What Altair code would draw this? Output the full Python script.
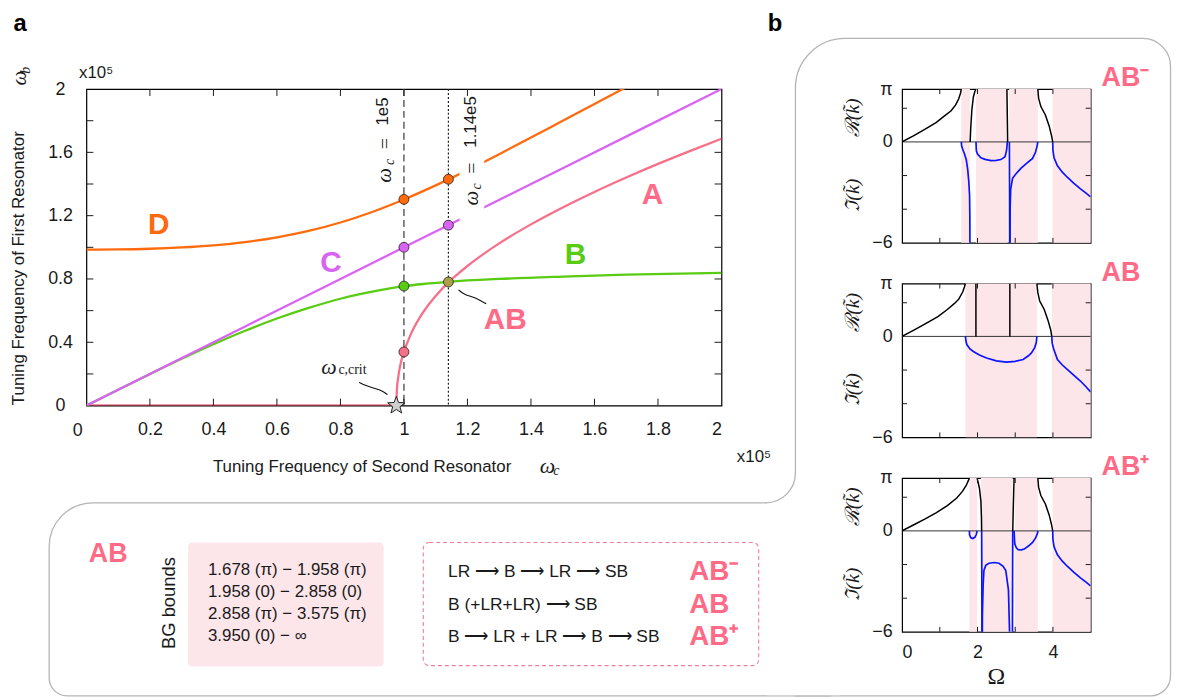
import math
import altair as alt
import pandas as pd

PI = math.pi
SANS = "Liberation Sans"
SERIF = "Liberation Serif"
INK = "#1a1a1a"
GRAY = "#b4b4b4"
PINK = "#ff6b86"
PINKBG = "#fde6ea"

# ---------------- panel a data (both axes in units of 1e5) ----------------
A0_x = [0.0, 0.976]
A0_y = [0.0, 0.0]
A_x = [0.976, 0.978, 0.982, 0.988, 0.994, 1.0, 1.02, 1.05, 1.075, 1.1, 1.14, 1.17, 1.2, 1.25,
       1.3, 1.4, 1.5, 1.6, 1.7, 1.8, 1.9, 2.0]
A_y = [0.0, 0.104, 0.179, 0.25, 0.301, 0.339, 0.4435, 0.557, 0.631, 0.693, 0.779, 0.832, 0.882, 0.957,
       1.025, 1.145, 1.252, 1.35, 1.441, 1.527, 1.608, 1.686]
B_x = [0.0, 0.1, 0.2, 0.3, 0.4, 0.5, 0.6, 0.7, 0.8, 0.9, 1.0, 1.07, 1.14, 1.3, 1.5, 1.7, 2.0]
B_y = [0.0, 0.1, 0.199, 0.296, 0.388, 0.473, 0.55, 0.617, 0.675, 0.72, 0.755, 0.77, 0.782, 0.80, 0.815, 0.827, 0.838]
C_x = [0.0, 0.5, 1.0, 1.5, 2.0]
C_y = [0.0, 0.5, 1.0, 1.5, 2.0]
D_x = [0.0, 0.1, 0.2, 0.3, 0.4, 0.5, 0.6, 0.7, 0.8, 0.9, 1.0, 1.1, 1.14, 1.2, 1.3, 1.4, 1.5, 1.6, 1.7, 1.75]
D_y = [0.985, 0.9865, 0.991, 0.9995, 1.013, 1.0335, 1.0635, 1.104, 1.157, 1.2235, 1.3025, 1.3915, 1.4293,
       1.487, 1.5885, 1.6935, 1.7995, 1.9055, 2.0115, 2.064]

dot_x = [1.0, 1.14, 1.0, 1.14, 1.0, 1.0, 1.14]
dot_y = [1.303, 1.43, 1.0, 1.14, 0.755, 0.339, 0.781]
dot_s = ["D", "D", "C", "C", "B", "A", "AB"]
crit_x = [0.976]
crit_y = [0.0]

series_names = ["A0", "A", "B", "C", "D", "AB"]
series_colors = ["#dc3452", "#f7708a", "#58cc12", "#d963f2", "#ff6a0d", "#aaa048"]

ticks_a = [0.2, 0.4, 0.6, 0.8, 1.0, 1.2, 1.4, 1.6, 1.8]
xlab_a = [0.2, 0.4, 0.6, 0.8, 1.0, 1.2, 1.4, 1.6, 1.8, 2.0]
ylab_a = [0.0, 0.4, 0.8, 1.2, 1.6, 2.0]

conn_ab_x = [1.172, 1.191, 1.222, 1.259]
conn_ab_y = [0.731, 0.699, 0.687, 0.643]
conn_cr_x = [0.859, 0.880, 0.906, 0.932, 0.948]
conn_cr_y = [0.147, 0.126, 0.109, 0.094, 0.069]

# ---------------- panel b data (Omega, Re/Im of k) ----------------
m_bands = [(1.57, 1.80), (1.96, 2.80), (2.84, 3.60), (3.99, 5.0)]
m_black = [
    [(0, 0), (0.3, 0.36), (0.6, 0.74), (0.9, 1.15), (1.1, 1.5), (1.3, 1.85), (1.42, 2.2), (1.5, 2.55), (1.55, 2.9), (1.57, PI)],
    [(1.805, 0), (1.82, 0.8), (1.85, 1.9), (1.89, 2.67), (1.93, 3.0), (1.96, PI)],
    [(2.78, PI), (2.79, 1.6), (2.80, 0)],
    [(3.60, PI), (3.62, 2.6), (3.68, 2.1), (3.8, 1.6), (3.9, 0.95), (3.96, 0.4), (3.995, 0)],
]
m_blue = [
    [(1.57, 0), (1.58, -0.25), (1.61, -0.45), (1.66, -0.75), (1.70, -1.04), (1.74, -1.63), (1.77, -2.4), (1.79, -3.2), (1.797, -4.5), (1.802, -8)],
    [(1.96, 0), (1.965, -0.3), (1.97, -0.53), (2.0, -0.72), (2.09, -0.94), (2.2, -1.04), (2.36, -1.11), (2.5, -1.1), (2.62, -1.05), (2.73, -0.88), (2.77, -0.5), (2.785, -0.2), (2.79, 0)],
    [(2.845, 0), (2.85, -3), (2.855, -8)],
    [(2.86, -8), (2.865, -4), (2.88, -2.8), (2.93, -2.16), (3.0, -1.95), (3.15, -1.57), (3.3, -1.28), (3.46, -0.98), (3.54, -0.6), (3.58, -0.25), (3.6, 0)],
    [(3.995, 0), (4.0, -0.5), (4.03, -0.95), (4.12, -1.42), (4.25, -1.8), (4.38, -2.1), (4.55, -2.45), (4.73, -2.79), (4.87, -3.03), (5.0, -3.27)],
]
z_bands = [(1.678, 3.575), (3.97, 5.0)]
z_black = [
    [(0, 0), (0.3, 0.36), (0.6, 0.73), (0.95, 1.18), (1.2, 1.6), (1.39, 1.96), (1.5, 2.2), (1.61, 2.65), (1.655, 2.95), (1.678, PI)],
    [(1.958, 0), (1.958, PI)],
    [(2.858, 0), (2.858, PI)],
    [(3.575, PI), (3.6, 2.6), (3.65, 2.1), (3.77, 1.6), (3.87, 0.95), (3.94, 0.4), (3.97, 0)],
]
z_blue = [
    [(1.678, 0), (1.70, -0.35), (1.72, -0.5), (1.8, -0.75), (1.89, -0.9), (2.05, -1.1), (2.24, -1.28), (2.5, -1.45), (2.77, -1.53), (3.0, -1.48), (3.21, -1.37), (3.35, -1.15), (3.43, -0.98), (3.52, -0.65), (3.56, -0.35), (3.575, 0)],
    [(3.97, 0), (3.98, -0.4), (4.02, -0.75), (4.12, -1.37), (4.25, -1.7), (4.38, -1.96), (4.55, -2.3), (4.73, -2.65), (4.87, -2.98), (5.0, -3.3)],
]
p_bands = [(1.785, 1.99), (2.09, 2.93), (2.99, 3.6), (3.99, 5.0)]
p_black = [
    [(0, 0), (0.3, 0.35), (0.6, 0.7), (0.9, 1.07), (1.2, 1.5), (1.45, 1.95), (1.6, 2.35), (1.7, 2.7), (1.76, 3.0), (1.785, PI)],
    [(1.99, PI), (2.05, 2.55), (2.09, 1.76), (2.105, 0.8), (2.11, 0)],
    [(2.935, 0), (2.95, 1.5), (2.97, PI)],
    [(3.60, PI), (3.62, 2.6), (3.68, 2.1), (3.8, 1.6), (3.9, 0.95), (3.96, 0.4), (3.995, 0)],
]
p_blue = [
    [(1.785, 0), (1.79, -0.25), (1.82, -0.4), (1.87, -0.45), (1.93, -0.38), (1.97, -0.2), (1.99, 0)],
    [(2.11, 0), (2.115, -3), (2.12, -8)],
    [(2.125, -8), (2.13, -5), (2.15, -3.2), (2.17, -2.35), (2.22, -2.05), (2.3, -1.92), (2.45, -1.88), (2.57, -1.92), (2.68, -2.1), (2.75, -2.35), (2.82, -3.5), (2.85, -6), (2.86, -8)],
    [(2.925, -8), (2.93, -3), (2.935, 0)],
    [(2.97, 0), (2.98, -0.5), (2.99, -0.78), (3.03, -1.0), (3.08, -1.12), (3.16, -1.13), (3.24, -1.08), (3.35, -0.9), (3.46, -0.69), (3.54, -0.42), (3.59, -0.15), (3.6, 0)],
    [(3.995, 0), (4.0, -0.5), (4.03, -0.95), (4.12, -1.42), (4.25, -1.8), (4.38, -2.1), (4.55, -2.45), (4.73, -2.79), (4.87, -3.03), (5.0, -3.27)],
]
b_ticks_x = [1, 2, 3, 4]
b_ticks_y = [2, -2, -4]
b_xlabels = [0, 2, 4]

# ---------------- text content ----------------
bg_lines = ["1.678 (π) − 1.958 (π)", "1.958 (0) − 2.858 (0)", "2.858 (π) − 3.575 (π)", "3.950 (0) − ∞"]
flow_lines = ["LR ⟶ B ⟶ LR ⟶ SB", "B (+LR+LR) ⟶ SB", "B ⟶ LR + LR ⟶ B ⟶ SB"]
flow_tags = ["AB⁻", "AB", "AB⁺"]

# ---------------- layout ----------------
OX, OY = 85.5, 86.0      # page position of panel a plot origin
W, H = 640, 319
BW, BH = 190, 155


def px(x):
    return x - OX


def py(y):
    return y - OY


one = pd.DataFrame({"k": [0]})
xsc = alt.Scale(domain=[0, 2], nice=False, zero=False)
ysc = alt.Scale(domain=[0, 2], nice=False, zero=False)
csc = alt.Scale(domain=series_names, range=series_colors)

x_axis = alt.Axis(values=xlab_a, format="~g", ticks=False, tickSize=0, domain=False, grid=False,
                  labelFont=SANS, labelFontSize=18, labelColor=INK, labelPadding=15.5, title=None)
y_axis = alt.Axis(values=ylab_a, format="~g", ticks=False, tickSize=0, domain=False, grid=False,
                  labelFont=SANS, labelFontSize=18, labelColor=INK, labelPadding=26.5,
                  labelAlign="center", labelBaseline="middle", title=None)


def XA(f):
    return alt.X(f, type="quantitative", scale=xsc, axis=x_axis)


def YA(f):
    return alt.Y(f, type="quantitative", scale=ysc, axis=y_axis)


def prect(x1, x2, y1, y2, **mk):
    return alt.Chart(one).mark_rect(**mk).encode(
        x=alt.value(x1), x2=alt.value(x2), y=alt.value(y1), y2=alt.value(y2))


def ptext(x, y, text, **mk):
    return alt.Chart(one).mark_text(text=text, **mk).encode(x=alt.value(x), y=alt.value(y))


def dtext(x, y, text, **mk):
    return alt.Chart(pd.DataFrame({"x": [x], "y": [y]})).mark_text(text=text, **mk).encode(
        x=XA("x"), y=YA("y"))


# ---- decorations (page-coordinate boxes) ----
decor = [
    prect(px(800), px(1178), py(35), py(697.5), stroke=GRAY, strokeWidth=1.3, fillOpacity=0,
          cornerRadiusTopLeft=50, cornerRadiusTopRight=28, cornerRadiusBottomRight=20),
    prect(px(48), px(835), py(503), py(697.5), stroke=GRAY, strokeWidth=1.3, fillOpacity=0,
          cornerRadiusTopLeft=44, cornerRadiusBottomLeft=18),
    prect(px(771), px(845), py(474), py(696.8), color="white"),
    alt.Chart(one).mark_arc(theta=PI / 2, theta2=PI, radius=30, radius2=30, stroke=GRAY,
                            strokeWidth=1.3, fillOpacity=0).encode(x=alt.value(px(770)), y=alt.value(py(473))),
    prect(px(188), px(385), py(543), py(668), color=PINKBG, cornerRadius=4),
    prect(px(425), px(763), py(543), py(667), fillOpacity=0, stroke="#f08098", strokeWidth=1.1,
          strokeDash=[4, 3], cornerRadius=6),
]

texts_px = [
    ptext(px(12), py(20), "a", font=SANS, fontSize=24, fontWeight="bold", align="left", baseline="middle", color="black"),
    ptext(px(772), py(20), "b", font=SANS, fontSize=24, fontWeight="bold", align="left", baseline="middle", color="black"),
    ptext(px(78), py(75), "x10⁵", font=SANS, fontSize=17, align="left", baseline="alphabetic", color=INK),
    ptext(px(741), py(461.5), "x10⁵", font=SANS, fontSize=17, align="left", baseline="alphabetic", color=INK),
    ptext(px(213), py(467), "Tuning Frequency of Second Resonator", font=SANS, fontSize=17, align="left", baseline="middle", color=INK),
    ptext(px(550), py(466), "ω", font=SERIF, fontSize=22, fontStyle="italic", baseline="middle", color=INK),
    ptext(px(559), py(471), "c", font=SERIF, fontSize=14, fontStyle="italic", baseline="middle", color=INK),
    ptext(px(17.5), py(266.5), "Tuning Frequency of First Resonator", font=SANS, fontSize=17, angle=270, baseline="middle", color=INK),
    ptext(px(19), py(75), "ω", font=SERIF, fontSize=21, fontStyle="italic", angle=270, baseline="middle", color=INK),
    ptext(px(25), py(67), "b", font=SERIF, fontSize=14, fontStyle="italic", angle=270, baseline="middle", color=INK),
    ptext(px(76.7), py(421.2), "0", font=SANS, fontSize=18, baseline="top", color=INK),
    # bottom box
    ptext(px(88), py(554.5), "AB", font=SANS, fontSize=27, fontWeight="bold", align="left", baseline="middle", color=PINK),
    ptext(px(169), py(604), "BG bounds", font=SANS, fontSize=18.5, angle=270, baseline="middle", color=INK),
]
for t, yy in zip(bg_lines, [571, 593, 615, 637]):
    texts_px.append(ptext(px(208), py(yy), t, font=SANS, fontSize=17, align="left", baseline="middle", color=INK))
for t, tag, yy in zip(flow_lines, flow_tags, [573, 605.5, 638]):
    texts_px.append(ptext(px(450), py(yy), t, font=SANS, fontSize=17.5, align="left", baseline="middle", color=INK))
    texts_px.append(ptext(px(693), py(yy), tag, font=SANS, fontSize=28, fontWeight="bold", align="left", baseline="middle", color=PINK))

# ---- curves ----
rows = []
for name, xx, yy in [("A0", A0_x, A0_y), ("A", A_x, A_y), ("B", B_x, B_y), ("C", C_x, C_y), ("D", D_x, D_y)]:
    for i, (a, b) in enumerate(zip(xx, yy)):
        rows.append({"x": a, "y": b, "s": name, "i": i})
curve_df = pd.DataFrame(rows)

curves = alt.Chart(curve_df).mark_line(strokeWidth=2.3, clip=True, interpolate="monotone").encode(
    x=XA("x"), y=YA("y"),
    color=alt.Color("s:N", scale=csc, legend=None),
    order="i:Q",
)

vdash = alt.Chart(pd.DataFrame({"x": [1.0]})).mark_rule(color="#555", strokeWidth=1.4, strokeDash=[7, 4]).encode(
    x=XA("x"), y=alt.value(0), y2=alt.value(H))
vdot = alt.Chart(pd.DataFrame({"x": [1.14]})).mark_rule(color="#222", strokeWidth=1.2, strokeDash=[2, 2]).encode(
    x=XA("x"), y=alt.value(0), y2=alt.value(H))

label_bg = alt.Chart(pd.DataFrame({"x1": [1.175], "x2": [1.253], "y1": [1.17], "y2": [1.988]})).mark_rect(color="white").encode(
    x=XA("x1"), x2="x2:Q", y=YA("y1"), y2="y2:Q")

dots = alt.Chart(pd.DataFrame({"x": dot_x, "y": dot_y, "s": dot_s})).mark_circle(
    size=100, stroke="#222", strokeWidth=0.8, opacity=1).encode(
    x=XA("x"), y=YA("y"), color=alt.Color("s:N", scale=csc, legend=None))

star_pts = []
for k in range(10):
    ang = -PI / 2 + k * PI / 5
    r = 1.0 if k % 2 == 0 else 0.42
    star_pts.append(f"{r * math.cos(ang):.3f},{r * math.sin(ang):.3f}")
STAR = "M" + " L".join(star_pts) + " Z"
star = alt.Chart(pd.DataFrame({"x": crit_x, "y": crit_y})).mark_point(
    shape=STAR, size=340, filled=True, fill="#cfcfcf", stroke="#222", strokeWidth=1, opacity=1).encode(
    x=XA("x"), y=YA("y"))

conn = alt.Chart(pd.DataFrame({
    "x": conn_ab_x + conn_cr_x, "y": conn_ab_y + conn_cr_y,
    "g": ["ab"] * len(conn_ab_x) + ["cr"] * len(conn_cr_x),
    "i": list(range(len(conn_ab_x))) + list(range(len(conn_cr_x)))})).mark_line(
    interpolate="basis", color="#111", strokeWidth=1.1).encode(
    x=XA("x"), y=YA("y"), detail="g:N", order="i:Q")

tick_df = pd.DataFrame({"t": ticks_a})
tk = dict(color=INK, strokeWidth=1)
ticks = [
    alt.Chart(tick_df).mark_rule(**tk).encode(x=XA("t"), y=alt.value(H), y2=alt.value(H - 7)),
    alt.Chart(tick_df).mark_rule(**tk).encode(x=XA("t"), y=alt.value(0), y2=alt.value(7)),
    alt.Chart(tick_df).mark_rule(**tk).encode(y=YA("t"), x=alt.value(0), x2=alt.value(7)),
    alt.Chart(tick_df).mark_rule(**tk).encode(y=YA("t"), x=alt.value(W), x2=alt.value(W - 7)),
]

big = dict(font=SANS, fontSize=30, fontWeight="bold")
labels_a = [
    dtext(0.228, 1.14, "D", color="#ff6a0d", **big),
    dtext(0.77, 0.90, "C", color="#d963f2", **big),
    dtext(1.54, 0.95, "B", color="#58cc12", **big),
    dtext(1.783, 1.33, "A", color=PINK, **big),
    dtext(1.319, 0.542, "AB", color=PINK, **big),
    dtext(0.764, 0.246, "ω", font=SERIF, fontSize=22, fontStyle="italic", color=INK),
    dtext(0.838, 0.227, "c,crit", font=SERIF, fontSize=14, color=INK),
    # rotated omega_c labels
    dtext(0.941, 1.455, "ω", font=SERIF, fontSize=21, fontStyle="italic", angle=270, color=INK),
    dtext(0.955, 1.54, "c", font=SERIF, fontSize=14, fontStyle="italic", angle=270, color=INK),
    dtext(0.941, 1.655, "=", font=SERIF, fontSize=20, angle=270, color=INK),
    dtext(0.934, 1.858, "1e5", font=SANS, fontSize=17, angle=270, color=INK),
    dtext(1.216, 1.31, "ω", font=SERIF, fontSize=21, fontStyle="italic", angle=270, color=INK),
    dtext(1.23, 1.385, "c", font=SERIF, fontSize=14, fontStyle="italic", angle=270, color=INK),
    dtext(1.216, 1.50, "=", font=SERIF, fontSize=20, angle=270, color=INK),
    dtext(1.211, 1.792, "1.14e5", font=SANS, fontSize=17, angle=270, color=INK),
]

panel_a = alt.layer(
    *decor, *texts_px, curves, vdash, vdot, label_bg, conn, dots, star, *ticks, *labels_a
).properties(width=W, height=H)


# ---------------- panel b ----------------
def seg_df(segs):
    rr = []
    for s, seg in enumerate(segs):
        for i, (o, v) in enumerate(seg):
            rr.append({"o": o, "v": v, "seg": s, "i": i})
    return pd.DataFrame(rr)


def bpanel(bands, black, blue, tag, show_x):
    bx = alt.Scale(domain=[0, 5], nice=False, zero=False)
    by = alt.Scale(domain=[-6, PI], nice=False, zero=False)
    xaxis = alt.Axis(values=b_xlabels, format="d", ticks=False, tickSize=0, domain=False, grid=False,
                     labelFont=SANS, labelFontSize=18, labelColor=INK, labelPadding=12, title=None) if show_x else None
    yaxis = alt.Axis(values=[-6, 0, PI], ticks=False, tickSize=0, domain=False, grid=False,
                     labelExpr="datum.value > 3 ? 'π' : (datum.value < -5 ? '−6' : '0')",
                     labelFont=SANS, labelFontSize=18, labelColor=INK, labelPadding=10,
                     labelAlign="right", labelBaseline="middle", title=None)

    def XB(f):
        return alt.X(f, type="quantitative", scale=bx, axis=xaxis)

    def YB(f):
        return alt.Y(f, type="quantitative", scale=by, axis=yaxis)

    band_df = pd.DataFrame({"lo": [b[0] for b in bands], "hi": [b[1] for b in bands]})
    layers = [
        alt.Chart(band_df).mark_rect(color=PINKBG).encode(
            x=XB("lo"), x2="hi:Q", y=alt.value(0), y2=alt.value(BH)),
        alt.Chart(pd.DataFrame({"v": [0.0]})).mark_rule(color="#333", strokeWidth=1).encode(
            y=YB("v"), x=alt.value(0), x2=alt.value(BW)),
        alt.Chart(seg_df(black)).mark_line(color="black", strokeWidth=1.5, clip=True).encode(
            x=XB("o"), y=YB("v"), detail="seg:N", order="i:Q"),
        alt.Chart(seg_df(blue)).mark_line(color="#0a14ff", strokeWidth=1.7, clip=True).encode(
            x=XB("o"), y=YB("v"), detail="seg:N", order="i:Q"),
    ]
    tx = pd.DataFrame({"t": b_ticks_x})
    ty = pd.DataFrame({"t": b_ticks_y})
    layers += [
        alt.Chart(tx).mark_rule(**tk).encode(x=XB("t"), y=alt.value(BH), y2=alt.value(BH - 5)),
        alt.Chart(tx).mark_rule(**tk).encode(x=XB("t"), y=alt.value(0), y2=alt.value(5)),
        alt.Chart(ty).mark_rule(**tk).encode(y=YB("t"), x=alt.value(0), x2=alt.value(5)),
        alt.Chart(ty).mark_rule(**tk).encode(y=YB("t"), x=alt.value(BW), x2=alt.value(BW - 5)),
        ptext(-49, 29, "ℛ(k̃)", font=SERIF, fontSize=20, fontStyle="italic", angle=270, baseline="middle", color=INK),
        ptext(-49, 107, "ℑ(k̃)", font=SERIF, fontSize=20, fontStyle="italic", angle=270, baseline="middle", color=INK),
        ptext(201, -11, tag, font=SANS, fontSize=27, fontWeight="bold", align="left", baseline="middle", color=PINK),
    ]
    if show_x:
        layers.append(ptext(95, 201, "Ω", font=SERIF, fontSize=24, baseline="middle", color=INK))
    return alt.layer(*layers).properties(width=BW, height=BH)


b1 = bpanel(m_bands, m_black, m_blue, "AB⁻", False)
b2 = bpanel(z_bands, z_black, z_blue, "AB", False)
b3 = bpanel(p_bands, p_black, p_blue, "AB⁺", True)
bcol = alt.vconcat(b1, b2, b3, spacing=41, bounds="flush")

chart = alt.hconcat(panel_a, bcol, spacing=182, bounds="flush").properties(
    padding={"left": 0, "top": 0, "right": 0, "bottom": 0}, background="white"
).configure_view(stroke="black", strokeWidth=1.2)

chart.save("out.html", embed_options={"renderer": "svg", "actions": False})
